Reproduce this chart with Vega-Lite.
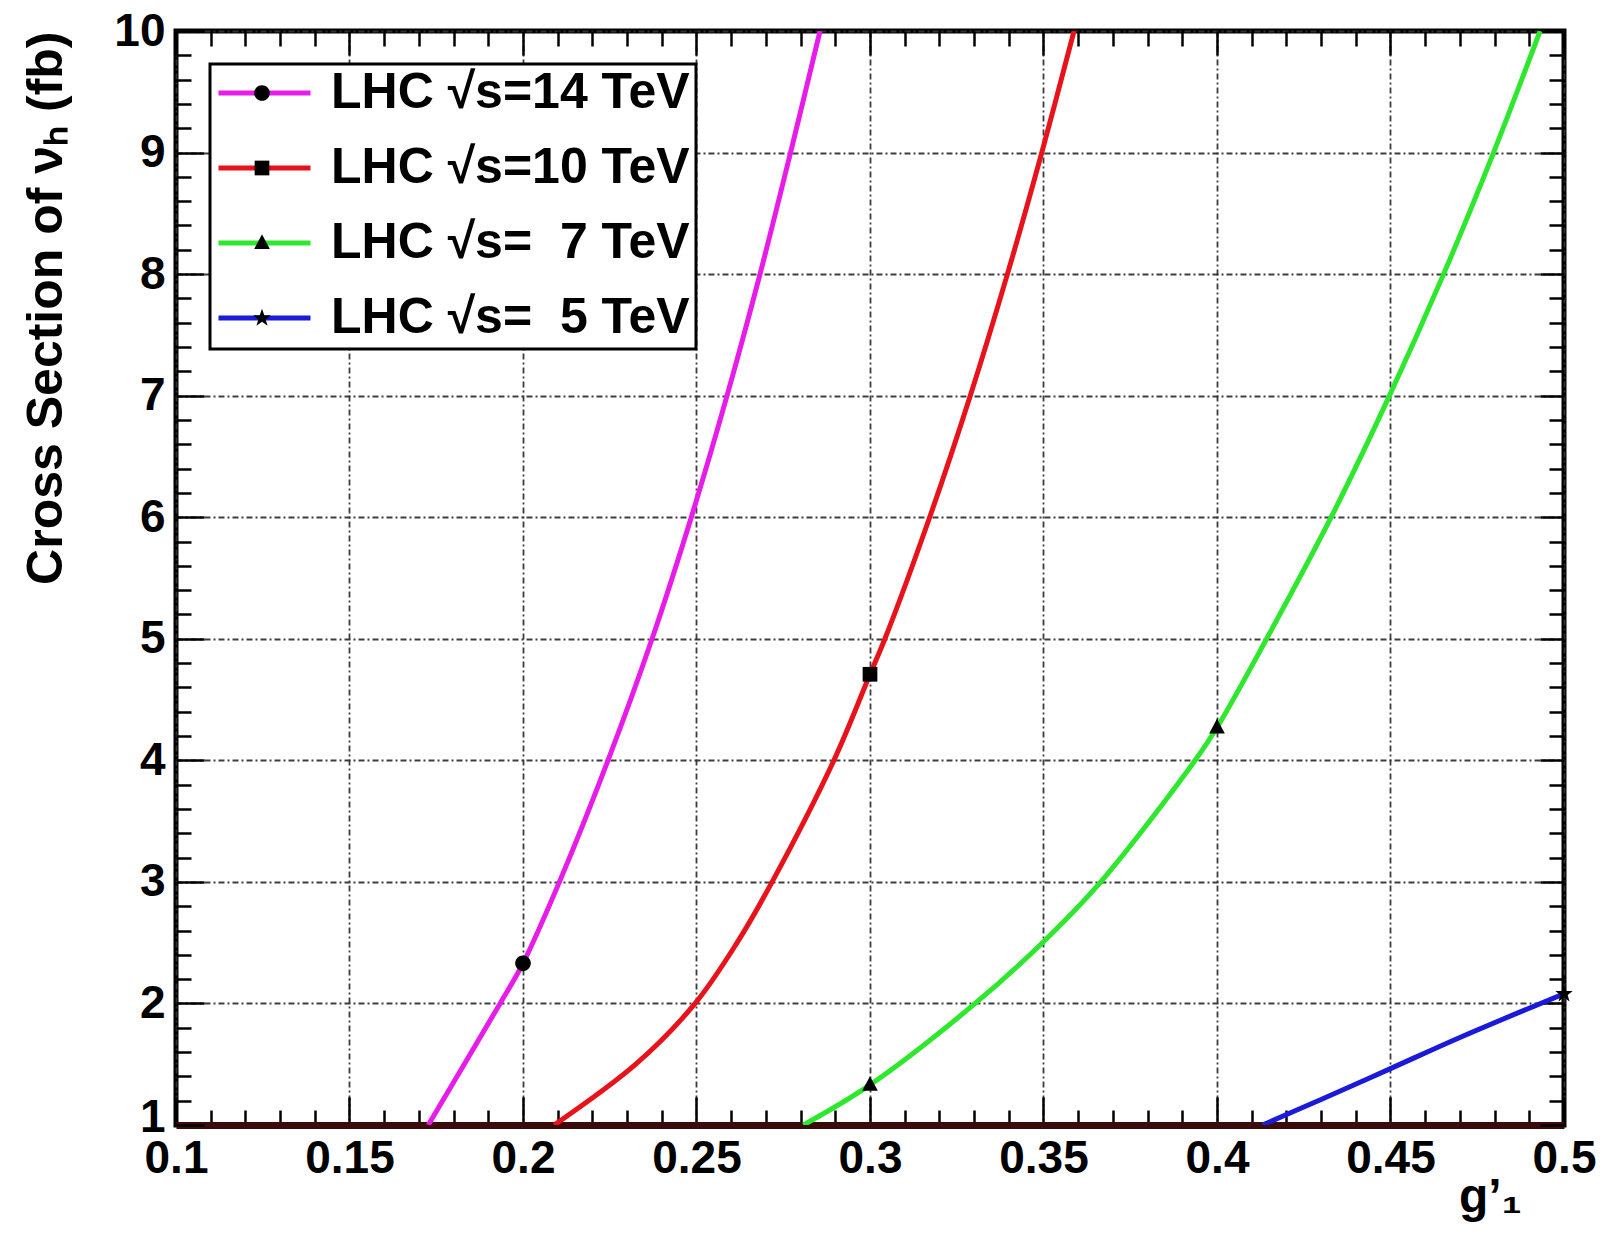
{
  "$schema": "https://vega.github.io/schema/vega-lite/v6.json",
  "width": 1388,
  "height": 1094,
  "autosize": {"type": "none"},
  "padding": {"left": 176, "top": 31, "right": 42, "bottom": 124},
  "background": "white",
  "config": {
    "view": {"stroke": "black", "strokeWidth": 5},
    "font": "Liberation Sans"
  },
  "datasets": {
    "curves": [
      {"series": "LHC √s=14 TeV", "x": 0.1727, "y": 1.0},
      {"series": "LHC √s=14 TeV", "x": 0.1934, "y": 2.0},
      {"series": "LHC √s=14 TeV", "x": 0.2, "y": 2.33},
      {"series": "LHC √s=14 TeV", "x": 0.2105, "y": 3.0},
      {"series": "LHC √s=14 TeV", "x": 0.2245, "y": 4.0},
      {"series": "LHC √s=14 TeV", "x": 0.2372, "y": 5.0},
      {"series": "LHC √s=14 TeV", "x": 0.2485, "y": 6.0},
      {"series": "LHC √s=14 TeV", "x": 0.2588, "y": 7.0},
      {"series": "LHC √s=14 TeV", "x": 0.2683, "y": 8.0},
      {"series": "LHC √s=14 TeV", "x": 0.2771, "y": 9.0},
      {"series": "LHC √s=14 TeV", "x": 0.2856, "y": 10.0},
      {"series": "LHC √s=10 TeV", "x": 0.2090, "y": 1.0},
      {"series": "LHC √s=10 TeV", "x": 0.2325, "y": 1.5},
      {"series": "LHC √s=10 TeV", "x": 0.2496, "y": 2.0},
      {"series": "LHC √s=10 TeV", "x": 0.2617, "y": 2.5},
      {"series": "LHC √s=10 TeV", "x": 0.2718, "y": 3.0},
      {"series": "LHC √s=10 TeV", "x": 0.2896, "y": 4.0},
      {"series": "LHC √s=10 TeV", "x": 0.3, "y": 4.708},
      {"series": "LHC √s=10 TeV", "x": 0.3043, "y": 5.0},
      {"series": "LHC √s=10 TeV", "x": 0.3172, "y": 6.0},
      {"series": "LHC √s=10 TeV", "x": 0.3289, "y": 7.0},
      {"series": "LHC √s=10 TeV", "x": 0.3396, "y": 8.0},
      {"series": "LHC √s=10 TeV", "x": 0.3495, "y": 9.0},
      {"series": "LHC √s=10 TeV", "x": 0.3588, "y": 10.0},
      {"series": "LHC √s=\u00a0 7 TeV", "x": 0.2808, "y": 1.0},
      {"series": "LHC √s=\u00a0 7 TeV", "x": 0.3, "y": 1.33},
      {"series": "LHC √s=\u00a0 7 TeV", "x": 0.3303, "y": 2.0},
      {"series": "LHC √s=\u00a0 7 TeV", "x": 0.35, "y": 2.508},
      {"series": "LHC √s=\u00a0 7 TeV", "x": 0.3665, "y": 3.0},
      {"series": "LHC √s=\u00a0 7 TeV", "x": 0.3937, "y": 4.0},
      {"series": "LHC √s=\u00a0 7 TeV", "x": 0.4, "y": 4.27},
      {"series": "LHC √s=\u00a0 7 TeV", "x": 0.4143, "y": 5.0},
      {"series": "LHC √s=\u00a0 7 TeV", "x": 0.4329, "y": 6.0},
      {"series": "LHC √s=\u00a0 7 TeV", "x": 0.4497, "y": 7.0},
      {"series": "LHC √s=\u00a0 7 TeV", "x": 0.4653, "y": 8.0},
      {"series": "LHC √s=\u00a0 7 TeV", "x": 0.4797, "y": 9.0},
      {"series": "LHC √s=\u00a0 7 TeV", "x": 0.4931, "y": 10.0},
      {"series": "LHC √s=\u00a0 5 TeV", "x": 0.4131, "y": 1.0},
      {"series": "LHC √s=\u00a0 5 TeV", "x": 0.43, "y": 1.21},
      {"series": "LHC √s=\u00a0 5 TeV", "x": 0.45, "y": 1.464},
      {"series": "LHC √s=\u00a0 5 TeV", "x": 0.47, "y": 1.72},
      {"series": "LHC √s=\u00a0 5 TeV", "x": 0.5, "y": 2.08}
    ],
    "markers": [
      {"marker": "m14", "x": 0.2, "y": 2.33},
      {"marker": "m10", "x": 0.3, "y": 4.708},
      {"marker": "m7", "x": 0.3, "y": 1.33},
      {"marker": "m7", "x": 0.4, "y": 4.27},
      {"marker": "m5", "x": 0.5, "y": 2.08}
    ]
  },
  "layer": [
    {
      "data": {"name": "curves"},
      "mark": {"type": "line", "strokeWidth": 5, "interpolate": "catmull-rom", "clip": true},
      "encoding": {
        "x": {
          "field": "x", "type": "quantitative",
          "scale": {"domain": [0.1, 0.5], "nice": false, "zero": false},
          "axis": {
            "orient": "bottom",
            "values": [0.1,0.11,0.12,0.13,0.14,0.15,0.16,0.17,0.18,0.19,0.2,0.21,0.22,0.23,0.24,0.25,0.26,0.27,0.28,0.29,0.3,0.31,0.32,0.33,0.34,0.35,0.36,0.37,0.38,0.39,0.4,0.41,0.42,0.43,0.44,0.45,0.46,0.47,0.48,0.49,0.5],
            "labelExpr": "abs(round(datum.value*100) % 5) == 0 ? format(datum.value, '.2~f') : ''",
            "labelOverlap": false, "labelFlush": false, "labelBound": false,
            "labelFont": "Liberation Sans", "labelFontSize": 46, "labelFontWeight": "bold", "labelColor": "black",
            "labelPadding": 39,
            "tickSize": {"condition": {"test": "abs(round(datum.value*100) % 5) == 0", "value": -28}, "value": -15},
            "tickWidth": 2.5, "tickColor": "black",
            "grid": true,
            "gridOpacity": {"condition": {"test": "abs(round(datum.value*100) % 5) == 0", "value": 0.95}, "value": 0},
            "gridDash": [6, 3, 2, 3], "gridColor": "#333333", "gridWidth": 1.8,
            "domain": true, "domainColor": "#3b0b0b", "domainWidth": 7,
            "title": "g’₁",
            "titleFont": "Liberation Sans", "titleFontSize": 48, "titleFontWeight": "bold", "titleColor": "black",
            "titleX": 1345, "titleY": 86, "titleAlign": "right", "titleBaseline": "alphabetic"
          }
        },
        "y": {
          "field": "y", "type": "quantitative",
          "scale": {"domain": [1, 10], "nice": false, "zero": false},
          "axis": {
            "orient": "left",
            "values": [1,1.2,1.4,1.6,1.8,2,2.2,2.4,2.6,2.8,3,3.2,3.4,3.6,3.8,4,4.2,4.4,4.6,4.8,5,5.2,5.4,5.6,5.8,6,6.2,6.4,6.6,6.8,7,7.2,7.4,7.6,7.8,8,8.2,8.4,8.6,8.8,9,9.2,9.4,9.6,9.8,10],
            "labelExpr": "abs(round(datum.value*10) % 10) == 0 ? format(datum.value, 'd') : ''",
            "labelOverlap": false, "labelFlush": false, "labelBound": false,
            "labelFont": "Liberation Sans", "labelFontSize": 46, "labelFontWeight": "bold", "labelColor": "black",
            "labelPadding": 39,
            "labelOffset": {"condition": {"test": "datum.value == 1", "value": -8}, "value": 0},
            "tickSize": {"condition": {"test": "abs(round(datum.value*10) % 10) == 0", "value": -28}, "value": -15},
            "tickWidth": 2.5, "tickColor": "black",
            "grid": true,
            "gridOpacity": {"condition": {"test": "abs(round(datum.value*10) % 10) == 0", "value": 0.95}, "value": 0},
            "gridDash": [6, 3, 2, 3], "gridColor": "#333333", "gridWidth": 1.8,
            "domain": false,
            "title": "Cross Section of νₕ (fb)",
            "titleFont": "Liberation Sans", "titleFontSize": 50, "titleFontWeight": "bold", "titleColor": "black",
            "titleAnchor": "end", "titlePadding": 42
          }
        },
        "color": {
          "field": "series", "type": "nominal",
          "scale": {
            "domain": ["LHC √s=14 TeV", "LHC √s=10 TeV", "LHC √s=\u00a0 7 TeV", "LHC √s=\u00a0 5 TeV"],
            "range": ["#e81ce8", "#e8131a", "#2ee82e", "#1a1ad8"]
          },
          "legend": {
            "title": null, "orient": "none", "legendX": 34, "legendY": 33,
            "symbolType": "stroke", "symbolSize": 8464, "symbolStrokeWidth": 5,
            "clipHeight": 46, "rowPadding": 25, "padding": 6,
            "labelFont": "Liberation Sans", "labelFontSize": 50, "labelFontWeight": "bold", "labelColor": "black",
            "labelOffset": 18, "labelLimit": 0,
            "fillColor": "white", "strokeColor": "black",
            "encode": {"legend": {"update": {"strokeWidth": {"value": 3}}}},
            "zindex": 1
          }
        }
      }
    },
    {
      "data": {"name": "markers"},
      "mark": {"type": "point", "filled": true, "color": "black", "opacity": 1, "size": 8464, "clip": false},
      "encoding": {
        "x": {
          "field": "x", "type": "quantitative",
          "axis": {
            "orient": "top",
            "values": [0.1,0.11,0.12,0.13,0.14,0.15,0.16,0.17,0.18,0.19,0.2,0.21,0.22,0.23,0.24,0.25,0.26,0.27,0.28,0.29,0.3,0.31,0.32,0.33,0.34,0.35,0.36,0.37,0.38,0.39,0.4,0.41,0.42,0.43,0.44,0.45,0.46,0.47,0.48,0.49,0.5],
            "labels": false, "grid": false, "domain": false, "title": null,
            "tickSize": {"condition": {"test": "abs(round(datum.value*100) % 5) == 0", "value": -24}, "value": -15},
            "tickWidth": 2.5, "tickColor": "black"
          }
        },
        "y": {
          "field": "y", "type": "quantitative",
          "axis": {
            "orient": "right",
            "values": [1,1.2,1.4,1.6,1.8,2,2.2,2.4,2.6,2.8,3,3.2,3.4,3.6,3.8,4,4.2,4.4,4.6,4.8,5,5.2,5.4,5.6,5.8,6,6.2,6.4,6.6,6.8,7,7.2,7.4,7.6,7.8,8,8.2,8.4,8.6,8.8,9,9.2,9.4,9.6,9.8,10],
            "labels": false, "grid": false, "domain": false, "title": null,
            "tickSize": {"condition": {"test": "abs(round(datum.value*10) % 10) == 0", "value": -24}, "value": -15},
            "tickWidth": 2.5, "tickColor": "black"
          }
        },
        "shape": {
          "field": "marker", "type": "nominal",
          "scale": {
            "domain": ["m14", "m10", "m7", "m5"],
            "range": [
              "M-0.17,0A0.17,0.17 0 1,0 0.17,0A0.17,0.17 0 1,0 -0.17,0Z",
              "M-0.16,-0.16H0.16V0.16H-0.16Z",
              "M0,-0.19L0.17,0.13H-0.17Z",
              "M0,-0.2L0.05,-0.06L0.19,-0.06L0.08,0.03L0.12,0.17L0,0.08L-0.12,0.17L-0.08,0.03L-0.19,-0.06L-0.05,-0.06Z"
            ]
          },
          "legend": {
            "title": null, "orient": "none", "legendX": 34, "legendY": 33,
            "symbolSize": 8464, "symbolFillColor": "black", "symbolStrokeColor": "black", "symbolStrokeWidth": 0,
            "clipHeight": 46, "rowPadding": 25, "padding": 6,
            "labelExpr": "''",
            "labelFont": "Liberation Sans", "labelFontSize": 50, "labelFontWeight": "bold", "labelColor": "black",
            "labelOffset": 18, "labelLimit": 0, "labelOpacity": 0,
            "zindex": 2
          }
        }
      }
    }
  ],
  "resolve": {"axis": {"x": "independent", "y": "independent"}}
}
